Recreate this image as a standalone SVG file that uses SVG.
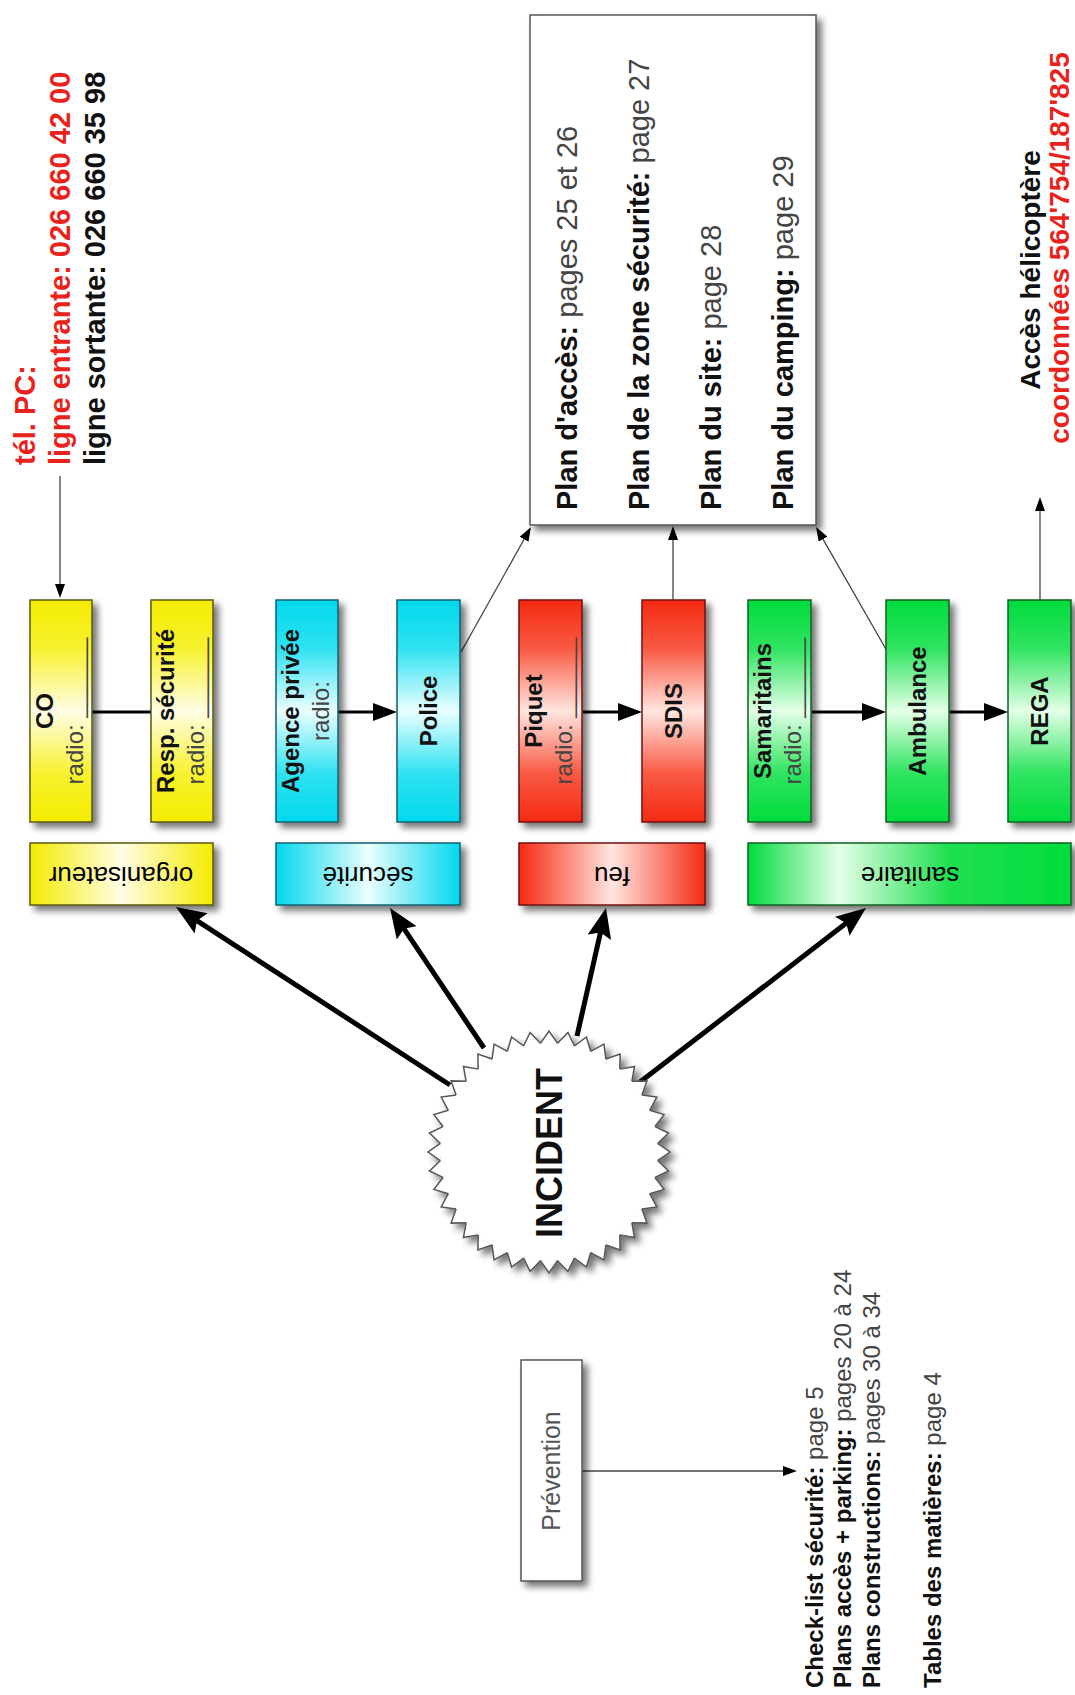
<svg xmlns="http://www.w3.org/2000/svg" xmlns:xlink="http://www.w3.org/1999/xlink" width="1075" height="1695" viewBox="0 0 1075 1695">
<defs>
  <filter id="sh" x="-30%" y="-30%" width="170%" height="170%">
    <feGaussianBlur in="SourceAlpha" stdDeviation="3.5"/>
    <feOffset dx="5" dy="5"/>
    <feComponentTransfer><feFuncA type="linear" slope="0.55"/></feComponentTransfer>
    <feMerge><feMergeNode/><feMergeNode in="SourceGraphic"/></feMerge>
  </filter>
  <linearGradient id="gYv" x1="0" y1="0" x2="0" y2="1">
    <stop offset="0" stop-color="#f4ec00"/><stop offset="0.22" stop-color="#f7f230"/><stop offset="0.5" stop-color="#fffde6"/><stop offset="0.78" stop-color="#f7f230"/><stop offset="1" stop-color="#f4ec00"/>
  </linearGradient>
  <linearGradient id="gYh" x1="0" y1="0" x2="1" y2="0">
    <stop offset="0" stop-color="#f4ec00"/><stop offset="0.5" stop-color="#fffde6"/><stop offset="1" stop-color="#f4ec00"/>
  </linearGradient>
  <linearGradient id="gCv" x1="0" y1="0" x2="0" y2="1">
    <stop offset="0" stop-color="#00d8ec"/><stop offset="0.22" stop-color="#30e2f2"/><stop offset="0.5" stop-color="#eafeff"/><stop offset="0.78" stop-color="#30e2f2"/><stop offset="1" stop-color="#00d8ec"/>
  </linearGradient>
  <linearGradient id="gCh" x1="0" y1="0" x2="1" y2="0">
    <stop offset="0" stop-color="#00d8ec"/><stop offset="0.5" stop-color="#eafeff"/><stop offset="1" stop-color="#00d8ec"/>
  </linearGradient>
  <linearGradient id="gRv" x1="0" y1="0" x2="0" y2="1">
    <stop offset="0" stop-color="#f52a12"/><stop offset="0.22" stop-color="#f85a44"/><stop offset="0.5" stop-color="#ffe6e0"/><stop offset="0.78" stop-color="#f85a44"/><stop offset="1" stop-color="#f52a12"/>
  </linearGradient>
  <linearGradient id="gRh" x1="0" y1="0" x2="1" y2="0">
    <stop offset="0" stop-color="#f52a12"/><stop offset="0.5" stop-color="#ffe6e0"/><stop offset="1" stop-color="#f52a12"/>
  </linearGradient>
  <linearGradient id="gGv" x1="0" y1="0" x2="0" y2="1">
    <stop offset="0" stop-color="#00dc3c"/><stop offset="0.22" stop-color="#30e460"/><stop offset="0.5" stop-color="#e4ffe8"/><stop offset="0.78" stop-color="#30e460"/><stop offset="1" stop-color="#00dc3c"/>
  </linearGradient>
  <linearGradient id="gGh" x1="0" y1="0" x2="1" y2="0">
    <stop offset="0" stop-color="#00dc3c"/><stop offset="0.28" stop-color="#e4ffe8"/><stop offset="0.62" stop-color="#20e050"/><stop offset="1" stop-color="#00dc3c"/>
  </linearGradient>
  <marker id="mB" viewBox="0 0 30 24" refX="6" refY="12" markerWidth="30" markerHeight="24" markerUnits="userSpaceOnUse" orient="auto">
    <path d="M0,0 L30,12 L0,24 L5,12 z" fill="#000"/>
  </marker>
  <marker id="mM" viewBox="0 0 24 18" refX="4" refY="9" markerWidth="24" markerHeight="18" markerUnits="userSpaceOnUse" orient="auto">
    <path d="M0,0 L24,9 L0,18 z" fill="#000"/>
  </marker>
  <marker id="mS" viewBox="0 0 14 10" refX="2" refY="5" markerWidth="14" markerHeight="10" markerUnits="userSpaceOnUse" orient="auto">
    <path d="M0,0 L14,5 L0,10 z" fill="#000"/>
  </marker>
  <path id="tooth" d="M-8.553,-108.66 L0,-121 L8.553,-108.66" fill="#fff" stroke="#555" stroke-width="1.5"/>
</defs>
<style>
  text{font-family:"Liberation Sans",Arial,Helvetica,sans-serif;fill:#111}
  .b{font-weight:bold}
  .n{font-weight:normal;fill:#444}
  .t{font-size:24px;text-anchor:middle}
  .row{font-size:26px;text-anchor:middle;fill:#000}
  .big{font-size:29px}
  .red{fill:#e8231c}
  .sm{font-size:24px}
  .y{stroke:#5a5a10;stroke-width:1.5}
  .c{stroke:#106070;stroke-width:1.5}
  .rd{stroke:#701010;stroke-width:1.5}
  .g{stroke:#106020;stroke-width:1.5}
  .thick{stroke:#000;stroke-width:5;fill:none}
  .med{stroke:#000;stroke-width:3;fill:none}
  .thin{stroke:#444;stroke-width:1.3;fill:none}
</style>
<rect width="1075" height="1695" fill="#fff"/>

<g id="connectors">
  <line class="thin" x1="60" y1="476" x2="60" y2="586" marker-end="url(#mS)"/>
  <line class="med" x1="92" y1="712" x2="151" y2="712"/>
  <line class="med" x1="338" y1="712" x2="377" y2="712" marker-end="url(#mM)"/>
  <line class="med" x1="583" y1="712" x2="622" y2="712" marker-end="url(#mM)"/>
  <line class="med" x1="812" y1="712" x2="866" y2="712" marker-end="url(#mM)"/>
  <line class="med" x1="949" y1="712" x2="988" y2="712" marker-end="url(#mM)"/>
  <line class="thin" x1="461" y1="652" x2="525.1" y2="537.5" marker-end="url(#mS)"/>
  <line class="thin" x1="673" y1="600" x2="673" y2="538" stroke="#777" marker-end="url(#mS)"/>
  <line class="thin" x1="887" y1="651" x2="822" y2="537.4" marker-end="url(#mS)"/>
  <line class="thin" x1="1040" y1="600" x2="1040" y2="509" marker-end="url(#mS)"/>
  <line class="thin" x1="582" y1="1471" x2="785" y2="1471" marker-end="url(#mS)"/>
  <line class="thick" x1="450" y1="1085" x2="196.1" y2="920.1" marker-end="url(#mB)"/>
  <line class="thick" x1="484" y1="1048" x2="403.4" y2="927.9" marker-end="url(#mB)"/>
  <line class="thick" x1="577" y1="1036" x2="600.7" y2="931.4" marker-end="url(#mB)"/>
  <line class="thick" x1="640" y1="1082" x2="847" y2="922.6" marker-end="url(#mB)"/>
</g>

<g id="tel">
  <text class="b big red" transform="translate(35,465) rotate(-90)">tél. PC:</text>
  <text class="b big red" transform="translate(70,465) rotate(-90)">ligne entrante: 026 660 42 00</text>
  <text class="b big" transform="translate(105,465) rotate(-90)">ligne sortante: 026 660 35 98</text>
</g>

<g id="co">
  <rect x="30" y="600" width="62" height="222" fill="url(#gYv)" class="y" filter="url(#sh)"/>
  <text class="t" transform="translate(53,711) rotate(-90)"><tspan class="b" x="0" y="0">CO</tspan><tspan class="n" x="0" y="30">radio: ______</tspan></text>
</g>
<g id="resp">
  <rect x="151" y="600" width="62" height="222" fill="url(#gYv)" class="y" filter="url(#sh)"/>
  <text class="t" transform="translate(174,711) rotate(-90)"><tspan class="b" x="0" y="0">Resp. sécurité</tspan><tspan class="n" x="0" y="30">radio: ______</tspan></text>
</g>
<g id="organisateur">
  <rect x="30" y="843" width="183" height="62" fill="url(#gYh)" class="y" filter="url(#sh)"/>
  <text class="row" transform="translate(121,874) rotate(180)" y="7">organisateur</text>
</g>

<g id="agence">
  <rect x="276" y="600" width="62" height="222" fill="url(#gCv)" class="c" filter="url(#sh)"/>
  <text class="t" transform="translate(299,711) rotate(-90)"><tspan class="b" x="0" y="0">Agence privée</tspan><tspan class="n" x="0" y="30">radio:</tspan></text>
</g>
<g id="police">
  <rect x="397" y="600" width="63" height="222" fill="url(#gCv)" class="c" filter="url(#sh)"/>
  <text class="t b" transform="translate(437,711) rotate(-90)">Police</text>
</g>
<g id="securite">
  <rect x="276" y="843" width="184" height="62" fill="url(#gCh)" class="c" filter="url(#sh)"/>
  <text class="row" transform="translate(368,874) rotate(180)" y="7">sécurité</text>
</g>

<g id="piquet">
  <rect x="519" y="600" width="63" height="222" fill="url(#gRv)" class="rd" filter="url(#sh)"/>
  <text class="t" transform="translate(542,711) rotate(-90)"><tspan class="b" x="0" y="0">Piquet</tspan><tspan class="n" x="0" y="30">radio: ______</tspan></text>
</g>
<g id="sdis">
  <rect x="642" y="600" width="63" height="222" fill="url(#gRv)" class="rd" filter="url(#sh)"/>
  <text class="t b" transform="translate(682,711) rotate(-90)">SDIS</text>
</g>
<g id="feu">
  <rect x="519" y="843" width="186" height="62" fill="url(#gRh)" class="rd" filter="url(#sh)"/>
  <text class="row" transform="translate(612,874) rotate(180)" y="7">feu</text>
</g>

<g id="samaritains">
  <rect x="748" y="600" width="63" height="222" fill="url(#gGv)" class="g" filter="url(#sh)"/>
  <text class="t" transform="translate(771,711) rotate(-90)"><tspan class="b" x="0" y="0">Samaritains</tspan><tspan class="n" x="0" y="30">radio: ______</tspan></text>
</g>
<g id="ambulance">
  <rect x="886" y="600" width="63" height="222" fill="url(#gGv)" class="g" filter="url(#sh)"/>
  <text class="t b" transform="translate(926,711) rotate(-90)">Ambulance</text>
</g>
<g id="rega">
  <rect x="1008" y="600" width="63" height="222" fill="url(#gGv)" class="g" filter="url(#sh)"/>
  <text class="t b" transform="translate(1048,711) rotate(-90)">REGA</text>
</g>
<g id="sanitaire">
  <rect x="748" y="843" width="323" height="62" fill="url(#gGh)" class="g" filter="url(#sh)"/>
  <text class="row" transform="translate(910,874) rotate(180)" y="7">sanitaire</text>
</g>

<g id="plans">
  <rect x="530" y="15" width="286" height="510" fill="#fff" stroke="#555" stroke-width="1.5" filter="url(#sh)"/>
  <text class="big" transform="translate(577,510) rotate(-90)"><tspan class="b">Plan d'accès:</tspan><tspan class="n"> pages 25 et 26</tspan></text>
  <text class="big" transform="translate(649,510) rotate(-90)"><tspan class="b">Plan de la zone sécurité:</tspan><tspan class="n"> page 27</tspan></text>
  <text class="big" transform="translate(721,510) rotate(-90)"><tspan class="b">Plan du site:</tspan><tspan class="n"> page 28</tspan></text>
  <text class="big" transform="translate(793,510) rotate(-90)"><tspan class="b">Plan du camping:</tspan><tspan class="n"> page 29</tspan></text>
</g>

<g id="helico">
  <text class="b" font-size="28" text-anchor="middle" transform="translate(1040,270) rotate(-90)">Accès hélicoptère</text>
  <text class="b red" font-size="28" text-anchor="middle" transform="translate(1069,248) rotate(-90)">coordonnées 564'754/187'825</text>
</g>

<g id="incident">
  <g transform="translate(549,1152)" filter="url(#sh)">
    <circle r="109" fill="#fff"/>
    <use xlink:href="#tooth" href="#tooth" transform="rotate(0)"/>
    <use xlink:href="#tooth" href="#tooth" transform="rotate(9)"/>
    <use xlink:href="#tooth" href="#tooth" transform="rotate(18)"/>
    <use xlink:href="#tooth" href="#tooth" transform="rotate(27)"/>
    <use xlink:href="#tooth" href="#tooth" transform="rotate(36)"/>
    <use xlink:href="#tooth" href="#tooth" transform="rotate(45)"/>
    <use xlink:href="#tooth" href="#tooth" transform="rotate(54)"/>
    <use xlink:href="#tooth" href="#tooth" transform="rotate(63)"/>
    <use xlink:href="#tooth" href="#tooth" transform="rotate(72)"/>
    <use xlink:href="#tooth" href="#tooth" transform="rotate(81)"/>
    <use xlink:href="#tooth" href="#tooth" transform="rotate(90)"/>
    <use xlink:href="#tooth" href="#tooth" transform="rotate(99)"/>
    <use xlink:href="#tooth" href="#tooth" transform="rotate(108)"/>
    <use xlink:href="#tooth" href="#tooth" transform="rotate(117)"/>
    <use xlink:href="#tooth" href="#tooth" transform="rotate(126)"/>
    <use xlink:href="#tooth" href="#tooth" transform="rotate(135)"/>
    <use xlink:href="#tooth" href="#tooth" transform="rotate(144)"/>
    <use xlink:href="#tooth" href="#tooth" transform="rotate(153)"/>
    <use xlink:href="#tooth" href="#tooth" transform="rotate(162)"/>
    <use xlink:href="#tooth" href="#tooth" transform="rotate(171)"/>
    <use xlink:href="#tooth" href="#tooth" transform="rotate(180)"/>
    <use xlink:href="#tooth" href="#tooth" transform="rotate(189)"/>
    <use xlink:href="#tooth" href="#tooth" transform="rotate(198)"/>
    <use xlink:href="#tooth" href="#tooth" transform="rotate(207)"/>
    <use xlink:href="#tooth" href="#tooth" transform="rotate(216)"/>
    <use xlink:href="#tooth" href="#tooth" transform="rotate(225)"/>
    <use xlink:href="#tooth" href="#tooth" transform="rotate(234)"/>
    <use xlink:href="#tooth" href="#tooth" transform="rotate(243)"/>
    <use xlink:href="#tooth" href="#tooth" transform="rotate(252)"/>
    <use xlink:href="#tooth" href="#tooth" transform="rotate(261)"/>
    <use xlink:href="#tooth" href="#tooth" transform="rotate(270)"/>
    <use xlink:href="#tooth" href="#tooth" transform="rotate(279)"/>
    <use xlink:href="#tooth" href="#tooth" transform="rotate(288)"/>
    <use xlink:href="#tooth" href="#tooth" transform="rotate(297)"/>
    <use xlink:href="#tooth" href="#tooth" transform="rotate(306)"/>
    <use xlink:href="#tooth" href="#tooth" transform="rotate(315)"/>
    <use xlink:href="#tooth" href="#tooth" transform="rotate(324)"/>
    <use xlink:href="#tooth" href="#tooth" transform="rotate(333)"/>
    <use xlink:href="#tooth" href="#tooth" transform="rotate(342)"/>
    <use xlink:href="#tooth" href="#tooth" transform="rotate(351)"/>
  </g>
  <text class="b" font-size="36" text-anchor="middle" transform="translate(562,1153) rotate(-90)">INCIDENT</text>
</g>

<g id="prevention">
  <rect x="521" y="1360" width="61" height="221" fill="#fff" stroke="#555" stroke-width="1.5" filter="url(#sh)"/>
  <text font-size="25" text-anchor="middle" style="fill:#555" transform="translate(560,1471) rotate(-90)">Prévention</text>
</g>

<g id="references">
  <text class="sm" transform="translate(823,1688) rotate(-90)"><tspan class="b">Check-list sécurité:</tspan><tspan class="n"> page 5</tspan></text>
  <text class="sm" transform="translate(851,1688) rotate(-90)"><tspan class="b">Plans accès + parking:</tspan><tspan class="n"> pages 20 à 24</tspan></text>
  <text class="sm" transform="translate(880,1688) rotate(-90)"><tspan class="b">Plans constructions:</tspan><tspan class="n"> pages 30 à 34</tspan></text>
  <text class="sm" transform="translate(941,1688) rotate(-90)"><tspan class="b">Tables des matières:</tspan><tspan class="n"> page 4</tspan></text>
</g>
</svg>
